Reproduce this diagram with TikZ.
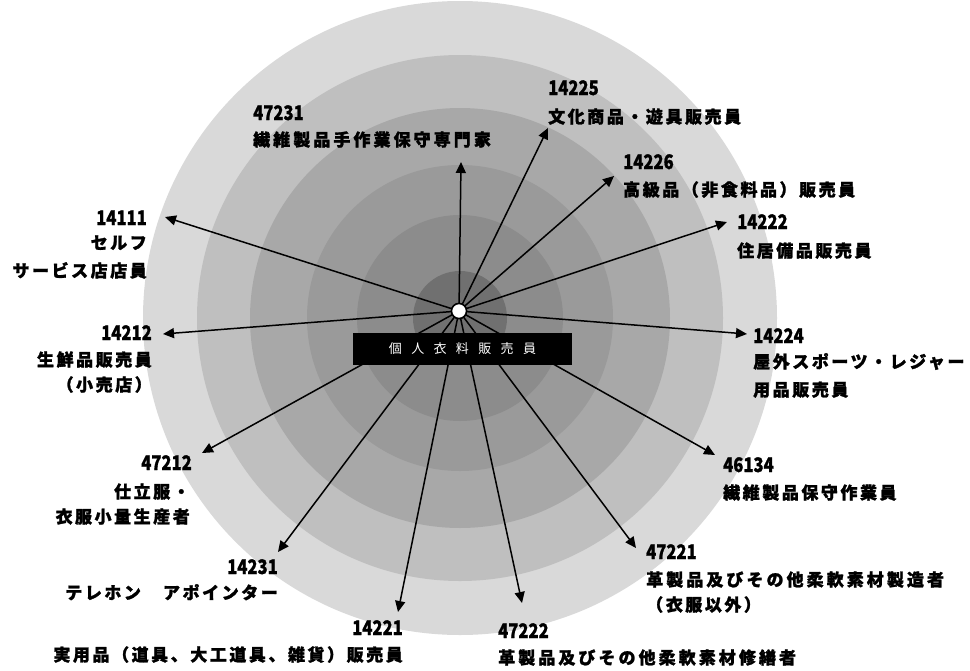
\documentclass[tikz,border=0pt]{standalone}
\usepackage{fontspec}
\usepackage{graphicx}
\usetikzlibrary{arrows.meta}
\newfontfamily\jp{Noto Sans CJK JP}
\definecolor{ringA}{HTML}{D9D9D9}
\definecolor{ringB}{HTML}{BFBFBF}
\definecolor{ringC}{HTML}{A8A8A8}
\definecolor{ringD}{HTML}{9A9A9A}
\definecolor{ringE}{HTML}{8C8C8C}
\definecolor{ringF}{HTML}{707070}
\tikzset{
  num/.style={font=\jp\bfseries\fontsize{20}{21}\selectfont\addfontfeatures{FakeBold=1.2}, inner sep=0pt},
  jtxt/.style={font=\jp\bfseries\fontsize{17}{18}\selectfont\addfontfeatures{LetterSpace=15,FakeBold=1.5}, inner sep=0pt},
  jwide/.style={font=\jp\bfseries\fontsize{17}{18}\selectfont\addfontfeatures{LetterSpace=18,FakeBold=1.5}, inner sep=0pt},
  arr/.style={line width=1.5pt, -{Triangle[length=11pt,width=10pt]}},
}
\newcommand{\nm}[1]{\scalebox{0.83}[1]{#1}}
\begin{document}
\begin{tikzpicture}[x=1pt,y=-1pt]
\useasboundingbox (0,0) rectangle (970,670);
% rings
\fill[ringA] (460,318) circle (317);
\fill[ringB] (460,318) circle (263);
\fill[ringC] (460,318) circle (210);
\fill[ringD] (460,318) circle (153);
\fill[ringE] (460,318) circle (103);
\fill[ringF] (460,318) circle (47);
% center and tips
\node[circle, fill=white, draw=black, line width=1.5pt, minimum size=15pt, inner sep=0pt] (c) at (459,311) {};
\coordinate (t1) at (461,162);
\coordinate (t2) at (548,128);
\coordinate (t3) at (614,176);
\coordinate (t4) at (727,222);
\coordinate (t5) at (747,334);
\coordinate (t6) at (715,455);
\coordinate (t7) at (636,548);
\coordinate (t8) at (522,603);
\coordinate (t9) at (398,612);
\coordinate (t10) at (278,552);
\coordinate (t11) at (202,453);
\coordinate (t12) at (163,334);
\coordinate (t13) at (165,217);
\foreach \i in {1,...,13} \draw[arr] (c.center) -- (t\i);
\node[circle, fill=white, draw=black, line width=1.5pt, minimum size=15pt, inner sep=0pt] at (c.center) {};
% center label
\node[fill=black, minimum width=219pt, minimum height=32pt, inner sep=0pt, text=white,
      font=\jp\fontsize{13}{14}\selectfont\addfontfeatures{LetterSpace=72}] (lbl) at (462.5,349) {個人衣料販売員};
% labels
\node[num, anchor=base west] (l1a) at (253,120) {\nm{47231}};
\node[jwide, anchor=base west] (l1b) at (253,146) {繊維製品手作業保守専門家};
\node[num, anchor=base west] (l2a) at (548,95) {\nm{14225}};
\node[jtxt, anchor=base west] (l2b) at (548,123) {文化商品・遊具販売員};
\node[num, anchor=base west] (l3a) at (623,169) {\nm{14226}};
\node[jtxt, anchor=base west] (l3b) at (623,196) {高級品（非食料品）販売員};
\node[num, anchor=base west] (l4a) at (737,229) {\nm{14222}};
\node[jtxt, anchor=base west] (l4b) at (737,257) {住居備品販売員};
\node[num, anchor=base west] (l5a) at (753,343) {\nm{14224}};
\node[jtxt, anchor=base west] (l5b) at (753,368) {屋外スポーツ・レジャー};
\node[jtxt, anchor=base west] (l5c) at (753,396) {用品販売員};
\node[num, anchor=base west] (l6a) at (723,472) {\nm{46134}};
\node[jtxt, anchor=base west] (l6b) at (723,499) {繊維製品保守作業員};
\node[num, anchor=base west] (l7a) at (646,559) {\nm{47221}};
\node[jwide, anchor=base west] (l7b) at (646,586) {革製品及びその他柔軟素材製造者};
\node[jtxt, anchor=base west] (l7c) at (646,611) {（衣服以外）};
\node[num, anchor=base west] (l8a) at (498,638) {\nm{47222}};
\node[jwide, anchor=base west] (l8b) at (498,664) {革製品及びその他柔軟素材修繕者};
\node[num, anchor=base east] (l9a) at (403,635) {\nm{14221}};
\node[jtxt, anchor=base east] (l9b) at (403,661) {実用品（道具、大工道具、雑貨）販売員};
\node[num, anchor=base east] (l10a) at (278,574) {\nm{14231}};
\node[jtxt, anchor=base east] (l10b) at (278,599) {テレホン　アポインター};
\node[num, anchor=base east] (l11a) at (192,470) {\nm{47212}};
\node[jtxt, anchor=base east] (l11b) at (190,498) {仕立服・};
\node[jtxt, anchor=base east] (l11c) at (190,523) {衣服小量生産者};
\node[num, anchor=base east] (l12a) at (152,340) {\nm{14212}};
\node[jtxt, anchor=base east] (l12b) at (152,366) {生鮮品販売員};
\node[jtxt, anchor=base east] (l12c) at (152,391) {（小売店）};
\node[num, anchor=base east] (l13a) at (147,225) {\nm{14111}};
\node[jtxt, anchor=base east] (l13b) at (147,249) {セルフ};
\node[jtxt, anchor=base east] (l13c) at (147,277) {サービス店店員};
\end{tikzpicture}
\end{document}
